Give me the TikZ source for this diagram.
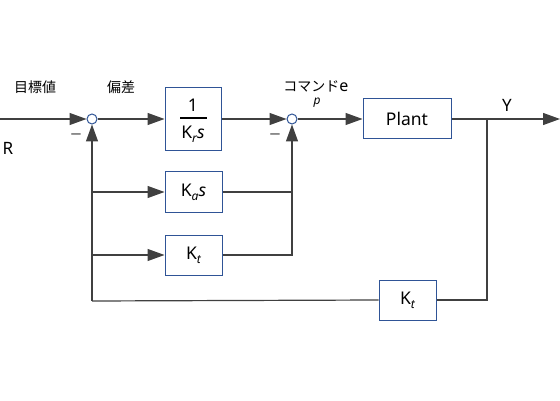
\documentclass[tikz,border=0pt]{standalone}
\usepackage{fontspec}
\setmainfont{Noto Sans}
\newfontfamily\jp{Noto Sans CJK JP}
\usetikzlibrary{arrows.meta}
\definecolor{lineGray}{HTML}{404040}
\definecolor{boxBlue}{HTML}{2F5496}
\newcommand\Ksub[1]{K\raisebox{-0.45ex}{\fontsize{12}{13}\selectfont\itshape #1}}
\begin{document}
\begin{tikzpicture}[x=1pt,y=-1pt,
  line/.style={draw=lineGray, line width=1.2pt},
  arr/.style={line, -{Triangle[length=17pt,width=12pt]}},
  blk/.style={draw=boxBlue, line width=1pt, fill=white, inner sep=0pt, font=\fontsize{17.5}{19}\selectfont},
  junc/.style={circle, draw=boxBlue, line width=1pt, fill=white, minimum size=10pt, inner sep=0pt},
  jlab/.style={font=\jp\fontsize{14}{16}\selectfont, text=black},
  llab/.style={font=\fontsize{17}{19}\selectfont, text=black},
  minus/.style={font=\fontsize{20}{22}\selectfont, text=lineGray!80}
]
\useasboundingbox (0,0) rectangle (560,401);
% blocks
\node[junc] (j1) at (92,119) {};
\node[junc] (j2) at (292,119) {};
\node[blk, minimum width=56pt, minimum height=63pt] (b1) at (193,119) {};
\node[blk, minimum width=88pt, minimum height=40pt] (plant) at (407,119) {Plant};
\node[blk, minimum width=57pt, minimum height=41pt] (ka) at (193.5,192) {\Ksub{a}\textit{s}};
\node[blk, minimum width=57pt, minimum height=40pt] (kt) at (193.5,255) {\Ksub{t}};
\node[blk, minimum width=57pt, minimum height=40pt] (kf) at (407.5,300) {\Ksub{t}};
% fraction content
\node[font=\fontsize{17.5}{19}\selectfont] (num) at (193,105) {1};
\node[font=\fontsize{17.5}{19}\selectfont] (den) at (193,134) {\Ksub{r}\textit{s}};
\draw[draw=black, line width=1.2pt] (180,118) coordinate (fb1) -- (207,118) coordinate (fb2);
% coordinates
\coordinate (in) at (0,119);
\coordinate (out) at (560,119);
\coordinate (br) at (487,119);
\coordinate (lb) at (92,301);
% connectors
\draw[arr] (in) -- (j1.west);
\draw[arr] (j1.east) -- (b1.west);
\draw[arr] (b1.east) -- (j2.west);
\draw[arr] (j2.east) -- (plant.west);
\draw[arr] (plant.east) -- (out);
\draw[line] (br) |- (kf.east);
\draw[line] (kf.west) -- (lb);
\draw[arr] (lb) -- (j1.south);
\draw[arr] (lb |- ka.west) -- (ka.west);
\draw[arr] (lb |- kt.west) -- (kt.west);
\draw[line] (ka.east) -- (ka.east -| j2.south);
\draw[arr] (kt.east) -| (j2.south);
% labels
\node[jlab] (l1) at (35,87) {目標値};
\node[jlab] (l2) at (121,87) {偏差};
\node[jlab] (l3) at (316,86) {コマンド\fontspec{Noto Sans}\fontsize{16}{18}\selectfont e};
\node[font=\fontsize{12}{13}\selectfont\itshape] (l4) at (317,103) {p};
\node[llab] (lR) at (8,148) {R};
\node[llab] (lY) at (507,105) {Y};
\node[minus] (m1) at (76,138) {−};
\node[minus] (m2) at (275,138) {−};
\end{tikzpicture}
\end{document}
